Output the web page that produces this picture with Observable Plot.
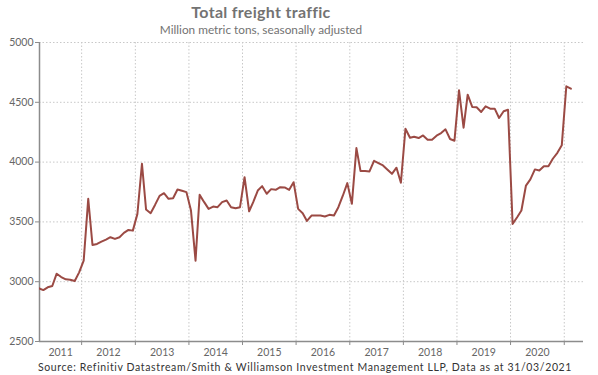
<!DOCTYPE html>
<html>
<head>
<meta charset="utf-8">
<script src="https://cdn.jsdelivr.net/npm/d3@7"></script>
<script src="https://cdn.jsdelivr.net/npm/@observablehq/plot@0.6"></script>
<style>
  html, body { margin: 0; padding: 0; background: #fff; }
  body { width: 598px; height: 375px; position: relative; overflow: hidden; font-family: Lato, "DejaVu Sans", sans-serif; }
  #title { position: absolute; top: 2px; left: 0; width: 522px; text-align: center; font-size: 16px; font-weight: bold; color: #737373; letter-spacing: 0.3px; }
  #subtitle { position: absolute; top: 22px; left: 0; width: 522px; text-align: center; font-size: 11.8px; color: #737373; }
  #chart { position: absolute; top: 37px; left: 0; }
  #caption { position: absolute; top: 361px; left: 0; width: 610px; text-align: center; font-size: 10.5px; color: #333; letter-spacing: 0.63px; white-space: nowrap; }
</style>
</head>
<body>
<div id="title">Total freight traffic</div>
<div id="subtitle">Million metric tons, seasonally adjusted</div>
<div id="chart"></div>
<div id="caption">Source: Refinitiv Datastream/Smith &amp; Williamson Investment Management LLP, Data as at 31/03/2021</div>
<script>
// Monthly values, March 2011 – February 2021 (million metric tons)
const startYear = 2011, startMonth = 3; // March 2011
const values = [
  2945, 2930, 2953, 2964, 3067, 3039, 3020, 3017, 3006, 3078,             // 2011 Mar–Dec
  3176, 3693, 3307, 3316, 3335, 3352, 3372, 3358, 3372, 3408, 3433, 3427, // 2012
  3567, 3986, 3603, 3573, 3642, 3718, 3740, 3693, 3698, 3771, 3760, 3749, // 2013
  3595, 3176, 3726, 3665, 3609, 3628, 3623, 3665, 3679, 3623, 3614, 3623, // 2014
  3874, 3589, 3665, 3762, 3799, 3735, 3774, 3768, 3790, 3788, 3768, 3832, // 2015
  3609, 3573, 3508, 3553, 3553, 3553, 3545, 3559, 3553, 3623, 3721, 3824, // 2016
  3651, 4117, 3925, 3925, 3922, 4011, 3992, 3972, 3936, 3902, 3953, 3827, // 2017
  4279, 4204, 4212, 4201, 4223, 4187, 4187, 4221, 4243, 4274, 4193, 4179, // 2018
  4600, 4288, 4564, 4461, 4458, 4419, 4466, 4447, 4447, 4369, 4425, 4438, // 2019
  3483, 3539, 3595, 3804, 3855, 3939, 3930, 3966, 3966, 4028, 4078, 4140, // 2020
  4634, 4614                                                              // 2021 Jan–Feb
];
const years = [2011, 2012, 2013, 2014, 2015, 2016, 2017, 2018, 2019, 2020];
const yTicks = [2500, 3000, 3500, 4000, 4500, 5000];

const data = values.map((v, i) => ({
  date: new Date(Date.UTC(startYear, startMonth - 1 + i, 15)),
  value: v
}));

const xDomain = [new Date(Date.UTC(2011, 2, 20)), new Date(Date.UTC(2021, 4, 12))];
const boundaries = years.slice(1).map(y => new Date(Date.UTC(y, 0, 1))).concat([new Date(Date.UTC(2021, 0, 1))]);
const labelPos = years.map(y => {
  const a = Math.max(Date.UTC(y, 0, 1), +xDomain[0]);
  const b = Math.min(Date.UTC(y + 1, 0, 1), +xDomain[1]);
  return {date: new Date((a + b) / 2), year: String(y)};
});

const gray = "#8c8c8c";
const chart = Plot.plot({
  width: 598,
  height: 323,
  marginTop: 5,
  marginBottom: 19,
  marginLeft: 39,
  marginRight: 15,
  style: {fontFamily: "Lato, 'DejaVu Sans', sans-serif", fontSize: "10.5px", color: "#666", background: "#fff"},
  x: {type: "utc", domain: xDomain},
  y: {domain: [2500, 5000]},
  marks: [
    Plot.gridY(yTicks, {stroke: "#c8c8c8", strokeOpacity: 1, strokeDasharray: "1.5,2"}),
    Plot.gridX(boundaries, {stroke: "#c8c8c8", strokeOpacity: 1, strokeDasharray: "1.5,2"}),
    Plot.axisY(yTicks, {tickSize: 4, tickFormat: d3.format("d"), tickPadding: 2, stroke: gray, fill: "#666", label: null}),
    Plot.axisX(boundaries, {tickSize: 4, tickFormat: () => "", stroke: gray, label: null}),
    Plot.text(labelPos, {x: "date", frameAnchor: "bottom", text: "year", dy: 14, fill: "#666"}),
    Plot.ruleY([2500], {stroke: gray, strokeWidth: 1.5}),
    Plot.ruleX([xDomain[0]], {stroke: gray, strokeWidth: 1.5}),
    Plot.line(data, {x: "date", y: "value", stroke: "#9b4a44", strokeWidth: 2, clip: true})
  ]
});
document.getElementById("chart").appendChild(chart);
</script>
</body>
</html>
